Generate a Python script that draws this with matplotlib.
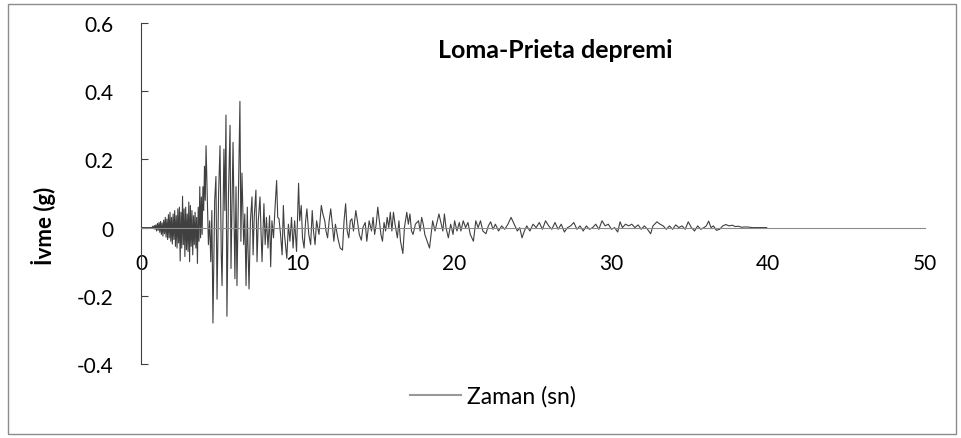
import matplotlib.pyplot as plt
from matplotlib.patches import Rectangle

plt.rcParams['font.family'] = ['Lato', 'DejaVu Sans']

# Loma-Prieta ivme kaydi: zaman (s) ve ivme (g)
# 0 - 4 s: baslangic ve yogun yuksek frekansli kisim
zaman_1 = [0.00, 0.70, 0.75, 0.80, 0.85, 0.90, 0.95, 1.00, 1.05, 1.10, 1.15,
           1.20, 1.25, 1.30, 1.35, 1.40, 1.45, 1.50, 1.55, 1.60, 1.65, 1.70,
           1.75, 1.80, 1.85, 1.90, 1.95, 2.00, 2.05, 2.10, 2.15, 2.20, 2.25,
           2.30, 2.35, 2.40, 2.45, 2.50, 2.55, 2.60, 2.65, 2.70, 2.75, 2.80,
           2.85, 2.90, 2.95, 3.00, 3.05, 3.10, 3.15, 3.20, 3.25, 3.30, 3.35,
           3.40, 3.45, 3.50, 3.55, 3.60, 3.65, 3.70, 3.75, 3.80, 3.85, 3.90,
           3.95, 4.00, 4.05, 4.10]
ivme_1 = [0.0, 0.0, 0.004, -0.003, 0.006, -0.005, 0.008, -0.010, 0.012, -0.008,
          0.015, -0.014, 0.018, -0.020, 0.014, -0.025, 0.022, -0.018, 0.030,
          -0.028, 0.025, -0.035, 0.038, -0.030, 0.045, -0.040, 0.030, -0.048,
          0.040, -0.035, 0.050, -0.055, 0.035, -0.060, 0.055, -0.045, 0.060,
          -0.098, 0.045, -0.060, 0.092, -0.050, 0.055, -0.085, 0.060, -0.065,
          0.040, -0.070, 0.075, -0.100, 0.065, -0.055, 0.050, -0.080, 0.035,
          -0.050, 0.045, -0.060, 0.030, -0.105, 0.060, -0.040, 0.120, -0.030,
          0.090, -0.020, 0.120, 0.050, 0.180, 0.080]

# 4 - 8 s: en buyuk genlikler
zaman_2 = [4.15, 4.30, 4.38, 4.45, 4.52, 4.59, 4.70, 4.78, 4.85, 4.95, 5.04,
           5.12, 5.17, 5.29, 5.35, 5.42, 5.48, 5.58, 5.68, 5.74, 5.80, 5.87,
           5.99, 6.06, 6.12, 6.20, 6.31, 6.37, 6.44, 6.55, 6.62, 6.70, 6.78,
           6.82, 6.89, 6.98, 7.08, 7.15, 7.22, 7.33, 7.40, 7.48, 7.59, 7.66,
           7.72, 7.84, 7.92]
ivme_2 = [0.24, -0.05, 0.02, -0.10, 0.05, -0.28, 0.08, 0.15, -0.21, 0.10, 0.24,
          -0.08, -0.17, 0.23, 0.05, 0.33, -0.26, 0.10, 0.30, -0.12, 0.05, 0.25,
          -0.15, 0.12, -0.17, 0.05, 0.37, -0.04, 0.16, -0.05, 0.04, -0.17, 0.06,
          -0.05, -0.18, 0.02, 0.09, -0.08, 0.03, 0.11, -0.10, 0.02, 0.09, -0.02,
          -0.10, 0.07, -0.05]

# 8 - 20 s
zaman_3 = [8.00, 8.10, 8.20, 8.27, 8.35, 8.45, 8.55, 8.65, 8.72, 8.80, 8.90,
           9.00, 9.08, 9.15, 9.30, 9.40, 9.50, 9.60, 9.70, 9.80, 9.92, 10.05,
           10.12, 10.22, 10.30, 10.40, 10.50, 10.58, 10.70, 10.82, 10.92, 11.00,
           11.10, 11.20, 11.35, 11.50, 11.60, 11.72, 11.80, 11.90, 12.00, 12.10,
           12.20, 12.30, 12.40, 12.55, 12.70, 12.85, 12.95, 13.05, 13.15, 13.25,
           13.35, 13.45, 13.55, 13.70, 13.80, 13.92, 14.05, 14.15, 14.30, 14.40,
           14.55, 14.70, 14.80, 14.90, 15.00, 15.10, 15.20, 15.30, 15.40, 15.50,
           15.60, 15.70, 15.80, 15.90, 16.00, 16.10, 16.20, 16.35, 16.45, 16.55,
           16.70, 16.80, 16.95, 17.05, 17.15, 17.25, 17.35, 17.50, 17.70, 17.80,
           17.90, 18.00, 18.10, 18.25, 18.40, 18.50, 18.60, 18.75, 18.90, 19.00,
           19.10, 19.25, 19.35, 19.45, 19.60, 19.75, 19.90]
ivme_3 = [0.03, -0.06, 0.035, -0.115, 0.02, -0.03, 0.06, 0.138, 0.03, 0.026,
          -0.02, -0.08, 0.065, -0.02, -0.09, 0.01, -0.04, 0.03, -0.06, 0.02,
          -0.07, 0.13, 0.02, 0.065, -0.03, -0.06, 0.02, 0.055, -0.02, -0.05,
          0.05, -0.01, -0.05, 0.02, -0.02, 0.065, 0.04, 0.02, -0.01, -0.03,
          0.02, 0.055, 0.01, -0.04, 0.01, -0.03, -0.06, -0.066, 0.02, 0.07,
          -0.01, -0.03, 0.02, 0.026, -0.01, 0.05, 0.02, -0.02, -0.037, 0.0,
          0.015, -0.04, 0.02, -0.01, 0.03, -0.02, 0.01, 0.06, 0.02, -0.02,
          -0.04, 0.015, -0.01, 0.03, 0.0, 0.045, -0.01, 0.045, 0.01, -0.03,
          0.02, -0.04, -0.076, 0.0, 0.045, 0.01, 0.04, -0.01, -0.02, 0.01,
          0.02, -0.01, 0.03, 0.01, -0.02, -0.04, -0.06, -0.02, 0.02, -0.01,
          0.02, 0.04, 0.02, -0.01, 0.04, 0.0, -0.03, 0.01, -0.02]

# 20 - 40 s: sonum
zaman_4 = [20.00, 20.15, 20.30, 20.40, 20.55, 20.70, 20.85, 21.00, 21.20, 21.35,
           21.50, 21.65, 21.80, 22.00, 22.15, 22.30, 22.45, 22.60, 22.80, 23.00,
           23.20, 23.40, 23.60, 23.80, 24.00, 24.15, 24.30, 24.45, 24.60, 24.80,
           25.00, 25.20, 25.40, 25.60, 25.80, 26.00, 26.20, 26.40, 26.60, 26.80,
           27.00, 27.20, 27.40, 27.60, 27.80, 28.00, 28.20, 28.40, 28.60, 28.80,
           29.00, 29.20, 29.40, 29.60, 29.80, 30.00, 30.20, 30.40, 30.55, 30.70,
           30.90, 31.10, 31.30, 31.50, 31.70, 31.90, 32.10, 32.30, 32.50, 32.65,
           32.90, 33.10, 33.30, 33.50, 33.70, 33.90, 34.10, 34.30, 34.50, 34.70,
           34.90, 35.10, 35.30, 35.50, 35.70, 35.90, 36.05, 36.20, 36.35, 36.50,
           36.70, 36.90, 37.10, 37.30, 37.50, 37.70, 37.90, 38.10, 38.30, 38.60,
           39.00, 39.90]
ivme_4 = [0.02, -0.01, 0.015, -0.01, 0.02, 0.0, 0.015, -0.02, -0.04, 0.02,
          0.0, 0.02, -0.01, -0.018, 0.005, 0.017, -0.005, 0.01, -0.01, 0.005,
          -0.005, 0.01, 0.03, 0.01, -0.01, 0.0, -0.03, -0.01, 0.005, -0.01,
          0.01, 0.0, 0.015, -0.005, 0.02, 0.005, -0.005, 0.015, -0.005, 0.01,
          -0.013, 0.0, 0.005, 0.015, -0.005, 0.005, -0.01, 0.005, -0.005, 0.0,
          0.01, -0.005, 0.02, 0.005, 0.01, -0.005, 0.0, -0.013, 0.017, 0.0,
          0.01, 0.005, 0.01, 0.0, 0.008, -0.005, 0.005, -0.005, -0.018, 0.005,
          0.017, 0.01, 0.005, -0.005, 0.005, -0.005, 0.008, 0.0, 0.005, -0.005,
          0.017, 0.0, -0.01, 0.005, -0.005, 0.0, 0.005, 0.019, 0.0, 0.005,
          -0.008, -0.005, 0.005, 0.009, 0.005, 0.007, 0.003, 0.004, 0.001, 0.002,
          0.0, 0.0]

zaman = zaman_1 + zaman_2 + zaman_3 + zaman_4
ivme = ivme_1 + ivme_2 + ivme_3 + ivme_4

x_ticks = [0, 10, 20, 30, 40, 50]
y_ticks = [-0.4, -0.2, 0, 0.2, 0.4, 0.6]
y_labels = ['-0.4', '-0.2', '0', '0.2', '0.4', '0.6']

fig = plt.figure(figsize=(9.61, 4.39), dpi=100)
ax = fig.add_axes([0.1467, 0.1686, 0.8159, 0.7767])

ax.plot(zaman, ivme, color='#404040', lw=0.8, label='Zaman (sn)')

ax.set_xlim(0, 50)
ax.set_ylim(-0.4, 0.6)
ax.set_xticks(x_ticks)
ax.set_yticks(y_ticks)
ax.set_yticklabels(y_labels)

ax.spines['top'].set_visible(False)
ax.spines['right'].set_visible(False)
ax.spines['bottom'].set_position(('data', 0))
ax.spines['bottom'].set_color('#8c8c8c')
ax.spines['left'].set_color('#404040')
ax.tick_params(axis='x', length=0, pad=18, labelsize=15)
ax.tick_params(axis='y', direction='in', length=5, color='#404040',
               pad=20, labelsize=15)

fig.text(555 / 961, 1 - 50 / 439, 'Loma-Prieta depremi', ha='center',
         va='center', fontsize=18, fontweight='bold')
fig.text(44 / 961, 1 - 226 / 439, 'İvme (g)', rotation=90, ha='center',
         va='center', fontsize=16, fontweight='bold')

leg = ax.legend(loc='center', bbox_to_anchor=(0.513, 0.0957),
                bbox_transform=fig.transFigure, frameon=False, fontsize=16.5,
                handlelength=2.2, handletextpad=0.25)
leg.get_lines()[0].set_color('#999999')
leg.get_lines()[0].set_linewidth(1.5)

fig.patches.append(Rectangle((8 / 961, 1 - 435 / 439), 948 / 961, 430 / 439,
                             transform=fig.transFigure, fill=False,
                             edgecolor='#8c8c8c', lw=1))

fig.savefig('out.png', dpi=100)
